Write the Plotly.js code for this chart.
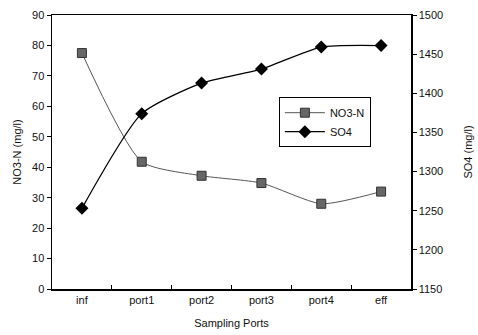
<!DOCTYPE html>
<html><head><meta charset="utf-8">
<script src="https://cdn.plot.ly/plotly-3.0.1.min.js"></script>
<style>html,body{margin:0;padding:0;background:#fff}#chart{width:478px;height:335px}</style>
</head><body><div id="chart"></div>
<script>
const ports = ["inf", "port1", "port2", "port3", "port4", "eff"];
const no3n = [77.5, 41.8, 37.2, 34.8, 28, 32];
const so4 = [1253, 1374, 1413, 1431, 1459, 1461];

const fnt = {family: "Liberation Sans, Arial, sans-serif", size: 11, color: "#111"};
const traces = [
  {x: ports, y: no3n, name: "NO3-N", type: "scatter", mode: "lines+markers",
   line: {color: "#555", width: 1, shape: "spline", smoothing: 0.6},
   marker: {symbol: "square", size: 9, color: "#666", line: {color: "#333", width: 1}}},
  {x: ports, y: so4, name: "SO4", type: "scatter", mode: "lines+markers", yaxis: "y2",
   line: {color: "#000", width: 1.3, shape: "spline", smoothing: 0.6},
   marker: {symbol: "diamond", size: 10, color: "#000"}}
];
const layout = {
  width: 478, height: 335,
  margin: {l: 52, r: 67, t: 15, b: 46},
  paper_bgcolor: "#fff", plot_bgcolor: "#fff",
  font: fnt,
  showlegend: true,
  legend: {x: 0.632, y: 0.70, xanchor: "left", yanchor: "top", bgcolor: "#fff",
           bordercolor: "#000", borderwidth: 1, font: fnt, tracegroupgap: 0, itemwidth: 40},
  xaxis: {type: "category", range: [-0.5, 5.5], showline: true, linecolor: "#000", linewidth: 1.5,
          mirror: true, ticks: "inside", tickson: "boundaries", ticklen: 4, tickcolor: "#000",
          showgrid: false, zeroline: false, tickfont: fnt,
          title: {text: "Sampling Ports", font: fnt, standoff: 14}},
  yaxis: {range: [0, 90], dtick: 10, showline: true, linecolor: "#000", linewidth: 1.5,
          ticks: "outside", ticklen: 4, tickcolor: "#000", showgrid: false, zeroline: false,
          tickfont: fnt, title: {text: "NO3-N (mg/l)", font: fnt, standoff: 8}},
  yaxis2: {range: [1150, 1500], dtick: 50, overlaying: "y", side: "right", showline: true,
           linecolor: "#000", linewidth: 1.5, ticks: "outside", ticklen: 4, tickcolor: "#000",
           showgrid: false, zeroline: false, tickfont: fnt,
           title: {text: "SO4 (mg/l)", font: fnt, standoff: 22}}
};
Plotly.newPlot("chart", traces, layout, {displayModeBar: false, staticPlot: true});
</script></body></html>
